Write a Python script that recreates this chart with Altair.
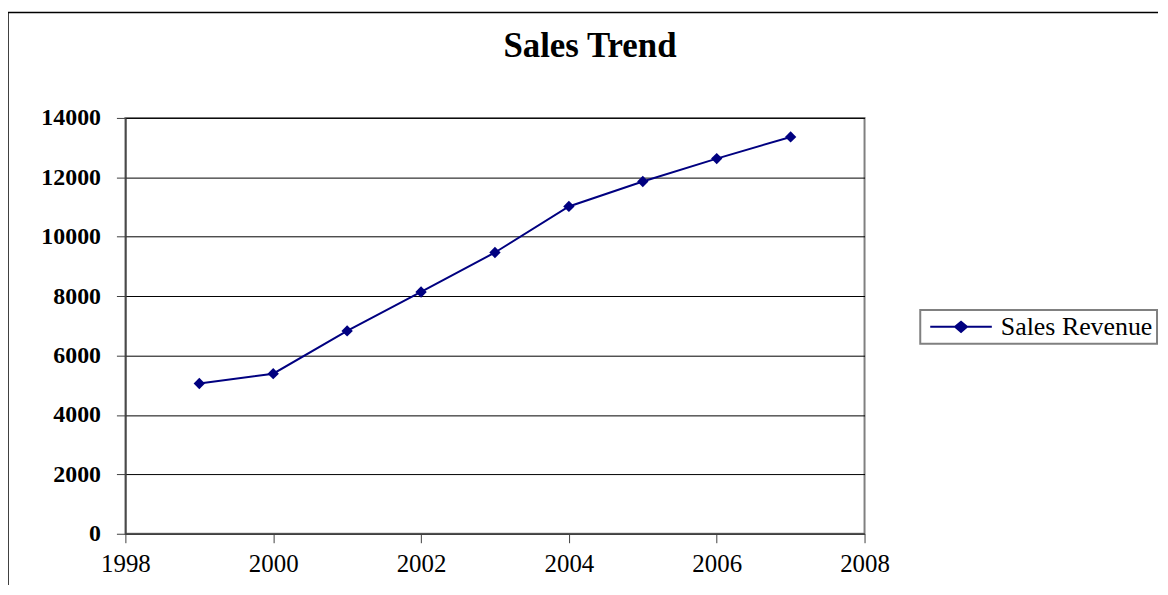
import altair as alt
import pandas as pd

years = [1999, 2000, 2001, 2002, 2003, 2004, 2005, 2006, 2007]
revenue = [5060, 5390, 6830, 8140, 9470, 11020, 11860, 12630, 13360]
series_name = "Sales Revenue"
title_text = "Sales Trend"
x_ticks = [1998, 2000, 2002, 2004, 2006, 2008]
y_ticks = [0, 2000, 4000, 6000, 8000, 10000, 12000, 14000]

df = pd.DataFrame({"Year": years, "Revenue": revenue, "Series": [series_name] * len(years)})
title_df = pd.DataFrame({"t": [title_text]})

W, H = 743, 418
PAD = {"left": 118, "top": 109, "right": 297, "bottom": 50}
FONT = "Liberation Serif"
NAVY = "#000080"

x_enc = alt.X("Year:Q",
              scale=alt.Scale(domain=[1998, 2008], nice=False, zero=False),
              axis=alt.Axis(values=x_ticks, format="d", title=None, grid=False,
                            labelFlush=False, labelOverlap=False,
                            labelFontSize=25, labelPadding=9, labelFontWeight="normal"))
y_enc = alt.Y("Revenue:Q",
              scale=alt.Scale(domain=[0, 14000], nice=False),
              axis=alt.Axis(values=y_ticks, format="d", title=None, grid=True,
                            labelFlush=False, labelOverlap=False,
                            gridColor="#000000", gridWidth=1,
                            labelFontSize=24, labelFontWeight="bold", labelPadding=16))
color_enc = alt.Color("Series:N",
                      scale=alt.Scale(domain=[series_name], range=[NAVY]),
                      legend=alt.Legend(title=None, orient="none", legendX=799, legendY=193))

base = alt.Chart(df)
line = base.mark_line(strokeWidth=2).encode(x=x_enc, y=y_enc, color=color_enc)
pts = base.mark_point(shape="diamond", filled=True, size=130, opacity=1).encode(
    x="Year:Q", y="Revenue:Q", color=alt.Color("Series:N", legend=None))

frame_top = alt.Chart(title_df).mark_rule(color="#000000", strokeWidth=1.5, clip=False).encode(
    x=alt.value(-118), x2=alt.value(1038), y=alt.value(-106), y2=alt.value(-106))
frame_left = alt.Chart(title_df).mark_rule(color="#000000", strokeWidth=1.5, clip=False).encode(
    x=alt.value(-118), x2=alt.value(-118), y=alt.value(-106), y2=alt.value(470))
title = alt.Chart(title_df).mark_text(
    font=FONT, fontSize=35, fontWeight="bold", color="#000000",
    align="center", baseline="alphabetic", clip=False
).encode(text="t:N", x=alt.value(467), y=alt.value(-61))

chart = alt.layer(frame_top, frame_left, title, line, pts).properties(
    width=W, height=H,
    autosize=alt.AutoSizeParams(type="none"),
    padding=PAD,
    background="#ffffff",
).configure_view(
    stroke="#808080", strokeWidth=2
).configure_axis(
    labelFont=FONT, labelColor="#000000",
    domainColor="#404040", domainWidth=1.5,
    tickColor="#404040", tickSize=9, tickWidth=1,
).configure_legend(
    labelFont=FONT, labelFontSize=26, labelColor="#000000",
    strokeColor="#808080", strokeWidth=2, fillColor="#ffffff",
    padding=4, labelOffset=27, symbolOffset=24,
    symbolType="M-2.58,0H2.58M-0.5,0L0,-0.42L0.5,0L0,0.42Z",
    symbolSize=576, symbolStrokeWidth=2,
    symbolFillColor=NAVY, symbolStrokeColor=NAVY,
)

chart.save("out.html", embed_options={"renderer": "svg", "actions": False})
